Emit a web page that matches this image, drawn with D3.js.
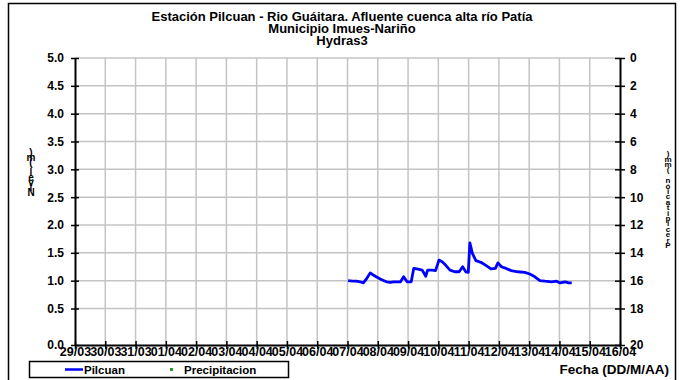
<!DOCTYPE html>
<html>
<head>
<meta charset="utf-8">
<script src="https://cdn.jsdelivr.net/npm/d3@7"></script>
<style>
  html, body { margin: 0; padding: 0; background: #fff; }
  svg { display: block; font-family: "Liberation Sans", Arial, sans-serif; }
</style>
</head>
<body>
<svg id="chart" width="683" height="380"></svg>
<script>
// Title lines
const titleLines = [
  "Estación Pilcuan - Rio Guáitara. Afluente cuenca alta río Patía",
  "Municipio Imues-Nariño",
  "Hydras3"
];

// Water level (m) at Pilcuan station
const levelTimes = [
  "2016-04-07T00:30", "2016-04-07T04:00", "2016-04-07T07:00", "2016-04-07T10:00",
  "2016-04-07T12:30", "2016-04-07T15:00", "2016-04-07T18:00", "2016-04-07T20:00",
  "2016-04-07T22:00", "2016-04-08T02:00", "2016-04-08T05:00", "2016-04-08T07:00",
  "2016-04-08T10:00", "2016-04-08T12:30", "2016-04-08T15:00", "2016-04-08T18:00",
  "2016-04-08T20:30", "2016-04-08T23:15", "2016-04-09T02:30", "2016-04-09T04:30",
  "2016-04-09T07:00", "2016-04-09T11:15", "2016-04-09T14:00", "2016-04-09T15:30",
  "2016-04-09T19:15", "2016-04-09T21:45", "2016-04-10T00:30", "2016-04-10T03:00",
  "2016-04-10T05:45", "2016-04-10T09:15", "2016-04-10T13:00", "2016-04-10T16:30",
  "2016-04-10T19:15", "2016-04-10T21:45", "2016-04-10T23:45", "2016-04-11T01:00",
  "2016-04-11T03:00", "2016-04-11T05:45", "2016-04-11T09:45", "2016-04-11T14:00",
  "2016-04-11T17:45", "2016-04-11T21:15", "2016-04-11T23:15", "2016-04-12T02:00",
  "2016-04-12T05:45", "2016-04-12T09:45", "2016-04-12T15:00", "2016-04-12T20:30",
  "2016-04-13T00:30", "2016-04-13T04:30", "2016-04-13T08:30", "2016-04-13T12:30",
  "2016-04-13T17:45", "2016-04-13T21:45", "2016-04-14T00:30", "2016-04-14T04:30",
  "2016-04-14T07:15", "2016-04-14T09:45"
];
const levelValues = [
  1.00, 0.99, 0.99, 0.98, 0.96, 1.03, 1.14, 1.11,
  1.08, 1.03, 1.00, 0.98, 0.97, 0.98, 0.98, 0.98,
  1.07, 0.98, 0.98, 1.22, 1.21, 1.19, 1.08, 1.19,
  1.19, 1.18, 1.37, 1.34, 1.28, 1.19, 1.16, 1.16,
  1.25, 1.16, 1.15, 1.68, 1.49, 1.36, 1.33, 1.27,
  1.21, 1.22, 1.32, 1.25, 1.22, 1.18, 1.16, 1.15,
  1.12, 1.07, 1.00, 0.99, 0.98, 0.99, 0.96, 0.98,
  0.96, 0.96
];

// Precipitation (mm): no readings in this period
const precipTimes = [];
const precipValues = [];

// Axis ranges and tick labels
const dateStart = "2016-03-29", dateEnd = "2016-04-16";
const levelTicks = [0, 0.5, 1, 1.5, 2, 2.5, 3, 3.5, 4, 4.5, 5];
const precipTicks = [0, 2, 4, 6, 8, 10, 12, 14, 16, 18, 20];

const legendLabels = ["Pilcuan", "Precipitacion"];
const levelColor = "#0000ff", precipColor = "#2e9b2e";

const svg = d3.select("#chart");
const L = 75, R = 620, T = 58, B = 345, B1 = 308.5;
const parse = d3.utcParse("%Y-%m-%dT%H:%M");
const parseDay = d3.utcParse("%Y-%m-%d");

const x = d3.scaleUtc().domain([parseDay(dateStart), parseDay(dateEnd)]).range([L, R]);
// the first band below the lowest gridline is drawn taller than the rest
const y = d3.scaleLinear().domain([0, 0.5, 5]).range([B, B1, T]);
const y2 = d3.scaleLinear().domain([0, 18, 20]).range([T, B1, B]);
const days = d3.utcDay.range(parseDay(dateStart), d3.utcDay.offset(parseDay(dateEnd), 1));

// outer frame
svg.append("rect").attr("x", 8.5).attr("y", 3.5).attr("width", 667).attr("height", 390)
  .attr("fill", "#fff").attr("stroke", "#000").attr("stroke-width", 1.5);

// titles
svg.append("g").selectAll("text").data(titleLines).join("text")
  .attr("x", 342).attr("y", (d, i) => 21 + i * 12)
  .attr("text-anchor", "middle").attr("font-size", 13).attr("font-weight", "bold")
  .text(d => d);

// grid
const grid = svg.append("g").attr("stroke", "#c4c4c4").attr("stroke-width", 1.5);
grid.selectAll(".gx").data(days.slice(1, -1)).join("line")
  .attr("x1", d => x(d)).attr("x2", d => x(d)).attr("y1", T).attr("y2", B);
grid.selectAll(".gy").data(levelTicks.slice(1)).join("line")
  .attr("x1", L).attr("x2", R).attr("y1", d => y(d)).attr("y2", d => y(d));

// series
const level = levelTimes.map((t, i) => ({ t: parse(t), v: levelValues[i] }));
svg.append("path").datum(level)
  .attr("fill", "none").attr("stroke", levelColor).attr("stroke-width", 2.8)
  .attr("stroke-linejoin", "round")
  .attr("d", d3.line().x(d => x(d.t)).y(d => y(d.v)));

const precip = precipTimes.map((t, i) => ({ t: parse(t), v: precipValues[i] }));
svg.append("g").selectAll("rect").data(precip).join("rect")
  .attr("x", d => x(d.t) - 1.5).attr("y", d => y2(d.v) - 1.5)
  .attr("width", 3).attr("height", 3).attr("fill", precipColor);

// axes
function styleAxis(g) {
  g.select(".domain").attr("stroke", "#000").attr("stroke-width", 2);
  g.selectAll(".tick line").attr("stroke", "#000").attr("stroke-width", 1.5);
  g.selectAll(".tick text").attr("font-size", 12).attr("font-weight", "bold").attr("fill", "#000");
}
svg.append("g").attr("transform", `translate(${L},0)`)
  .call(d3.axisLeft(y).tickValues(levelTicks).tickFormat(d3.format(".1f")).tickSize(0).tickPadding(11))
  .call(styleAxis)
  .call(g => g.selectAll(".tick").append("line").attr("x1", -4).attr("x2", 4)
    .attr("stroke", "#000").attr("stroke-width", 1.5));
svg.append("g").attr("transform", `translate(${R},0)`)
  .call(d3.axisRight(y2).tickValues(precipTicks).tickSize(0).tickPadding(10))
  .call(styleAxis)
  .call(g => g.selectAll(".tick").append("line").attr("x1", -5).attr("x2", 5)
    .attr("stroke", "#000").attr("stroke-width", 1.5));
svg.append("g").attr("transform", `translate(0,${B})`)
  .call(d3.axisBottom(x).tickValues(days).tickFormat(d3.utcFormat("%d/%m")).tickSize(0).tickPadding(2))
  .call(styleAxis)
  .call(g => g.selectAll(".tick").append("line").attr("y1", -4).attr("y2", 4)
    .attr("stroke", "#000").attr("stroke-width", 1.5))
  .call(g => g.selectAll(".tick text").attr("font-size", 12.5));

// axis titles: upright glyphs stacked bottom to top in one text element
const stack = (str, cx, yBottom, step, size) => {
  const chars = Array.from(str);
  svg.append("text").attr("text-anchor", "middle")
    .attr("font-size", size).attr("font-weight", "bold")
    .selectAll("tspan").data(chars).join("tspan")
    .attr("x", cx).attr("y", (d, i) => yBottom - i * step)
    .text(d => d);
};
stack("Nivel (m)", 31, 196, 5, 10);
stack("Precipitación (mm)", 668, 248, 5.4, 8);

// legend
const lg = svg.append("g");
lg.append("rect").attr("x", 29.5).attr("y", 361.5).attr("width", 259).attr("height", 16)
  .attr("fill", "#fff").attr("stroke", "#000").attr("stroke-width", 1.5);
lg.append("line").attr("x1", 65).attr("x2", 83).attr("y1", 369.5).attr("y2", 369.5)
  .attr("stroke", levelColor).attr("stroke-width", 2.5);
lg.append("rect").attr("x", 170).attr("y", 368).attr("width", 3).attr("height", 3).attr("fill", precipColor);
lg.selectAll("text").data(legendLabels).join("text")
  .attr("x", (d, i) => i === 0 ? 84 : 184).attr("y", 373.5)
  .attr("font-size", 11.5).attr("font-weight", "bold").text(d => d);

svg.append("text").attr("x", 669).attr("y", 374).attr("text-anchor", "end")
  .attr("font-size", 13.5).attr("font-weight", "bold").text("Fecha (DD/M/AA)");
</script>
</body>
</html>
